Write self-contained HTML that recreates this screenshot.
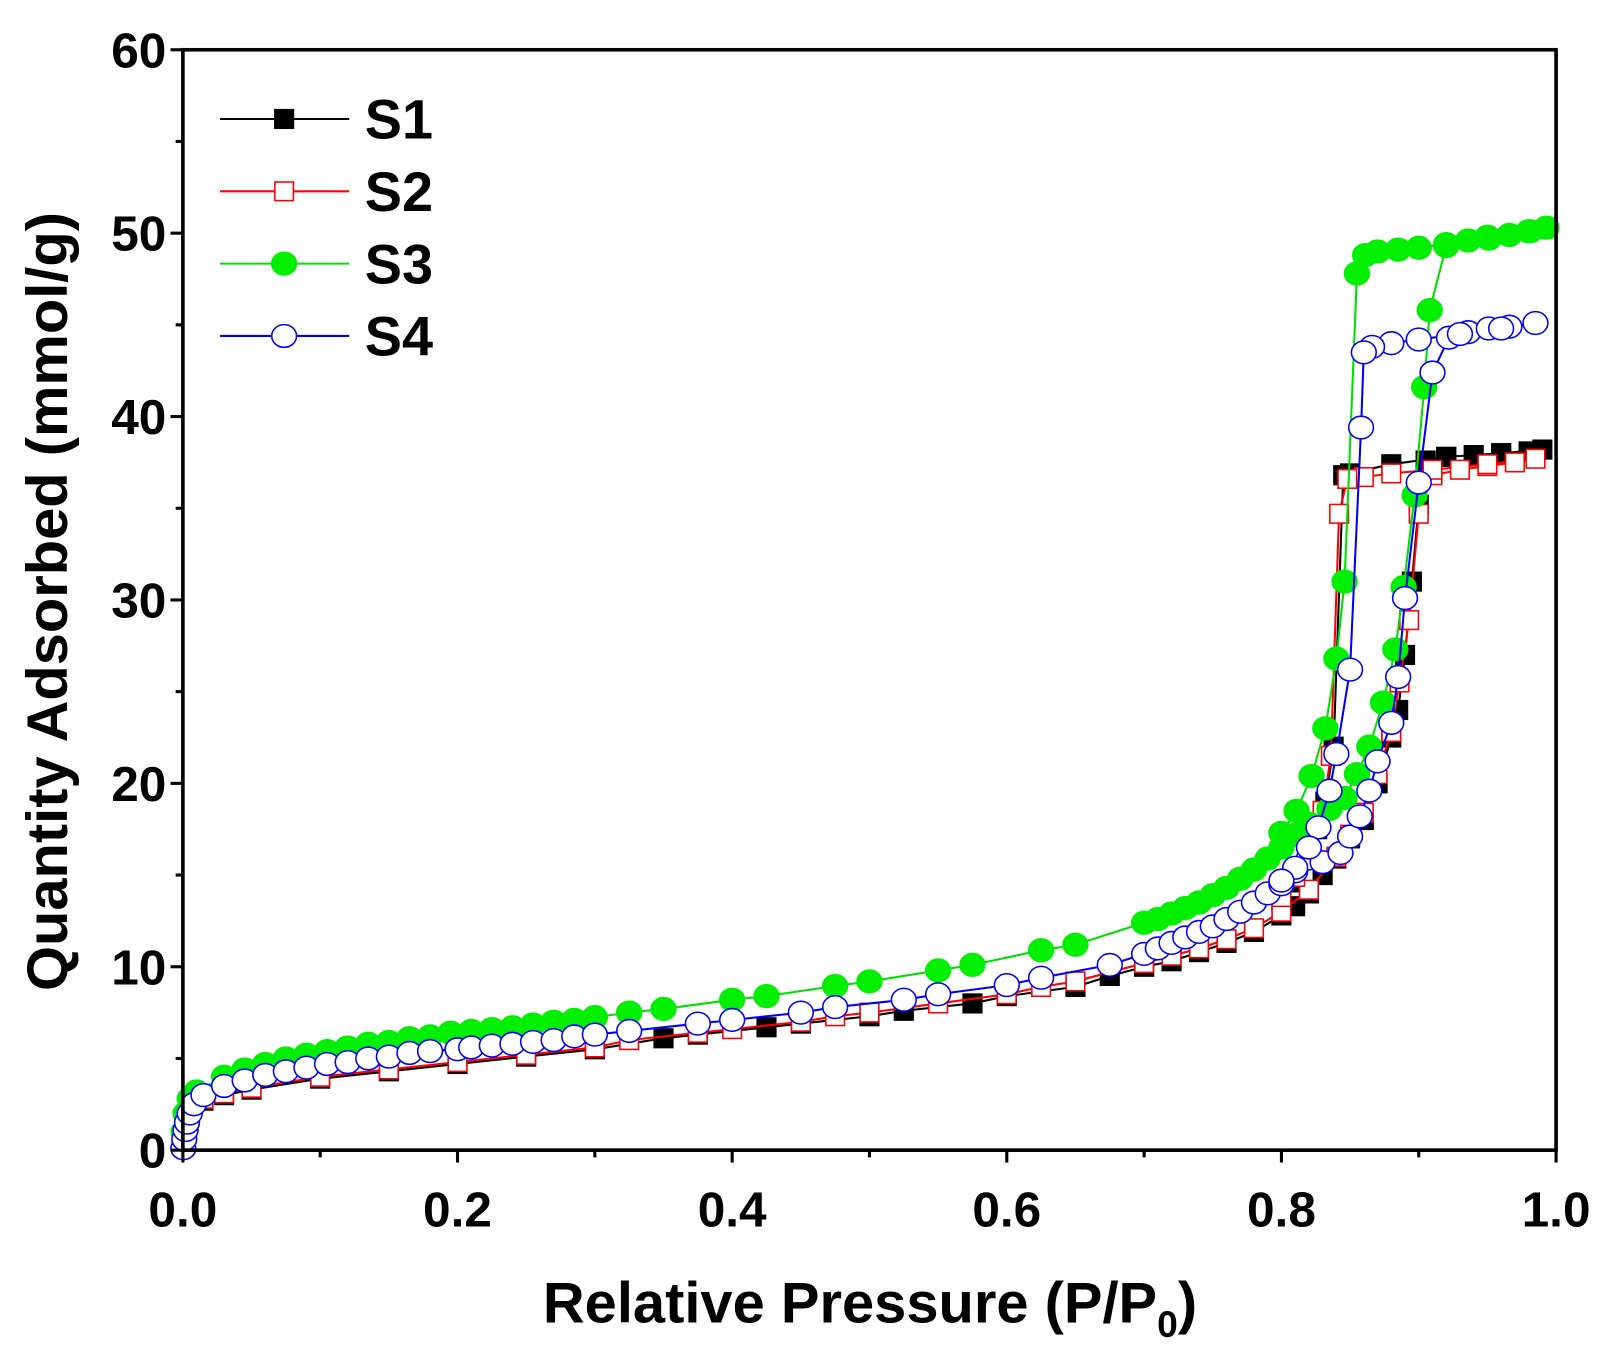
<!DOCTYPE html>
<html><head><meta charset="utf-8"><style>
html,body{margin:0;padding:0;background:#fff;}
svg{display:block;font-family:"Liberation Sans",Arial,sans-serif;font-weight:bold;}
</style></head><body>
<svg id="chart" width="1616" height="1358" viewBox="0 0 1564 1314" xmlns="http://www.w3.org/2000/svg">
<g id="series"></g>
<g id="axes"></g>
<g id="legend"></g>
</svg>
<script>
const xTicks=[0,0.2,0.4,0.6,0.8,1.0];
const xTickLabels=["0.0","0.2","0.4","0.6","0.8","1.0"];
const yTicks=[0,10,20,30,40,50,60];
const yTickLabels=["0","10","20","30","40","50","60"];
const seriesNames=["S1","S2","S3","S4"];

const s1X=[0.0005,0.002,0.005,0.015,0.03,0.05,0.1,0.15,0.2,0.25,0.3,0.35,0.375,0.425,0.45,0.5,0.525,0.575,0.6,0.65,0.675,0.7,0.72,0.74,0.76,0.78,0.8,0.81,0.82,0.83,0.84,0.85,0.86,0.87,0.88,0.885,0.89,0.895,0.9,0.905,0.92,0.94,0.96,0.98,0.99,0.96,0.92,0.88,0.85,0.845,0.838,0.832,0.826,0.82,0.81,0.8];
const s1Y=[0.3,1.2,2.0,2.7,3.0,3.3,3.9,4.3,4.7,5.1,5.5,6.1,6.3,6.7,6.9,7.3,7.6,8.0,8.4,8.9,9.5,10.0,10.3,10.8,11.3,11.9,12.8,13.3,14.0,15.0,15.9,17.0,18.0,20.0,22.5,24.0,27.0,31.0,35.2,37.6,37.8,37.9,38.0,38.1,38.2,38.0,37.8,37.4,36.9,36.8,22.0,19.0,17.5,16.0,14.6,13.6];

const s2X=[0.0005,0.002,0.005,0.015,0.03,0.05,0.1,0.15,0.2,0.25,0.3,0.325,0.375,0.4,0.45,0.475,0.5,0.55,0.6,0.625,0.65,0.7,0.72,0.74,0.76,0.78,0.8,0.82,0.84,0.85,0.86,0.87,0.88,0.886,0.893,0.9,0.91,0.93,0.95,0.97,0.985,0.95,0.91,0.88,0.86,0.848,0.842,0.836,0.83,0.82,0.81,0.8];
const s2Y=[0.2,1.3,2.1,2.8,3.1,3.4,4.0,4.4,4.8,5.2,5.6,6.0,6.4,6.6,7.0,7.3,7.5,8.0,8.5,8.9,9.2,10.2,10.6,11.0,11.5,12.1,13.0,14.2,16.0,17.2,18.4,20.5,22.8,25.5,28.9,34.7,36.8,37.1,37.3,37.5,37.7,37.4,37.1,36.9,36.7,36.6,34.7,21.5,18.5,16.5,14.9,13.8];

const s3X=[0.0005,0.002,0.005,0.01,0.03,0.045,0.06,0.075,0.09,0.105,0.12,0.135,0.15,0.165,0.18,0.195,0.21,0.225,0.24,0.255,0.27,0.285,0.3,0.325,0.35,0.4,0.425,0.475,0.5,0.55,0.575,0.625,0.65,0.7,0.71,0.72,0.73,0.74,0.75,0.76,0.77,0.78,0.79,0.8,0.81,0.82,0.835,0.846,0.855,0.864,0.874,0.883,0.889,0.897,0.904,0.908,0.92,0.936,0.951,0.966,0.981,0.993,0.98,0.95,0.92,0.9,0.885,0.87,0.861,0.855,0.846,0.84,0.832,0.822,0.811,0.8];
const s3Y=[1.0,2.0,2.8,3.2,4.0,4.4,4.7,5.0,5.2,5.4,5.6,5.8,5.9,6.1,6.2,6.4,6.5,6.6,6.7,6.85,7.0,7.1,7.25,7.5,7.7,8.2,8.4,8.95,9.2,9.8,10.1,10.9,11.2,12.4,12.6,12.9,13.2,13.5,13.9,14.3,14.8,15.3,15.9,16.5,17.2,17.8,18.6,19.2,20.5,22.0,24.4,27.3,30.7,35.7,41.6,45.8,49.3,49.6,49.7,49.9,50.1,50.3,50.1,49.8,49.4,49.2,49.1,49.0,48.8,47.8,31.0,26.8,23.0,20.4,18.5,17.3];

const s4X=[0.0003,0.001,0.002,0.003,0.005,0.008,0.015,0.03,0.045,0.06,0.075,0.09,0.105,0.12,0.135,0.15,0.165,0.18,0.2,0.21,0.225,0.24,0.255,0.27,0.285,0.3,0.325,0.375,0.4,0.45,0.475,0.525,0.55,0.6,0.625,0.675,0.7,0.71,0.72,0.73,0.74,0.75,0.76,0.77,0.78,0.79,0.8,0.81,0.82,0.83,0.843,0.85,0.857,0.864,0.87,0.88,0.885,0.89,0.9,0.91,0.922,0.936,0.951,0.966,0.985,0.96,0.93,0.9,0.88,0.866,0.86,0.858,0.85,0.84,0.835,0.827,0.82,0.81,0.8];
const s4Y=[0.1,0.6,1.1,1.5,2.0,2.5,3.0,3.5,3.8,4.1,4.3,4.5,4.7,4.8,5.0,5.1,5.3,5.4,5.5,5.6,5.7,5.8,5.9,6.0,6.2,6.3,6.5,6.9,7.1,7.5,7.8,8.2,8.5,9.0,9.4,10.1,10.7,11.0,11.3,11.6,11.9,12.2,12.6,13.0,13.5,14.0,14.5,15.2,15.9,15.7,16.2,17.1,18.2,19.6,21.2,23.3,25.8,30.1,36.4,42.4,44.3,44.6,44.8,44.9,45.1,44.8,44.5,44.2,44.0,43.8,43.5,39.4,26.2,21.6,19.6,17.6,16.5,15.4,14.7];

const X0=177,X1=1506,Y0=1113,Y1=48;
function sx(v){return X0+(X1-X0)*v;}
function sy(v){return Y0-(Y0-Y1)*v/60;}
const NS="http://www.w3.org/2000/svg";
function mk(tag,attrs,parent){const e=document.createElementNS(NS,tag);for(const k in attrs)e.setAttribute(k,attrs[k]);parent.appendChild(e);return e;}

const styles=[
 {line:"#000",type:"sq",fill:"#000",stroke:"#000"},
 {line:"#ff0000",type:"sq",fill:"#fff",stroke:"#ff0000"},
 {line:"#00dd00",type:"ci",fill:"#00ee00",stroke:"#00ee00"},
 {line:"#0000ff",type:"ci",fill:"#fff",stroke:"#0000ff"}
];
const seriesX=[s1X,s2X,s3X,s4X], seriesY=[s1Y,s2Y,s3Y,s4Y];
const sg=document.getElementById('series');
function marker(parent,st,cx,cy){
  let m;
  if(st.type==="sq"){m=mk('rect',{x:cx-9,y:cy-9,width:18,height:18,fill:st.fill,stroke:st.stroke,'stroke-width':1.5},parent);}
  else{m=mk('ellipse',{cx:cx,cy:cy,rx:12,ry:11,fill:st.fill,stroke:st.stroke,'stroke-width':1.5},parent);}
  return m;
}
for(let i=0;i<4;i++){
  const st=styles[i];
  const g=mk('g',{},sg);
  
  
  const pts=seriesX[i].map((x,j)=>sx(x).toFixed(1)+","+sy(seriesY[i][j]).toFixed(1)).join(" ");
  const pl=mk('polyline',{points:pts,fill:'none',stroke:st.line,'stroke-width':2},g);
  
  
  seriesX[i].forEach((x,j)=>{
    const m=marker(g,st,sx(x),sy(seriesY[i][j]));
    
    
  });
}

const ax=document.getElementById('axes');
const frame=mk('rect',{x:X0,y:Y1,width:X1-X0,height:Y0-Y1,fill:'none',stroke:'#000','stroke-width':3.5},ax);


for(let k=0;k<=10;k++){
  const v=k/10, major=k%2===0;
  mk('line',{x1:sx(v),y1:Y0,x2:sx(v),y2:Y0+(major?12:7),stroke:'#000','stroke-width':3},ax);
}
xTicks.forEach((v,i)=>{
  const t=mk('text',{x:sx(v),y:Y0+74,'text-anchor':'middle','font-size':48},ax);
  t.textContent=xTickLabels[i];
  
  
});
for(let k=0;k<=12;k++){
  const v=k*5, major=k%2===0;
  mk('line',{x1:X0,y1:sy(v),x2:X0-(major?12:7),y2:sy(v),stroke:'#000','stroke-width':3},ax);
}
yTicks.forEach((v,i)=>{
  const t=mk('text',{x:X0-16,y:sy(v)+17,'text-anchor':'end','font-size':48},ax);
  t.textContent=yTickLabels[i];
  
  
});
const xt=mk('text',{x:842,y:1280,'text-anchor':'middle','font-size':56},ax);
xt.innerHTML='Relative Pressure (P/P<tspan font-size="36" dy="14">0</tspan><tspan dy="-14">)</tspan>';


const yt=mk('text',{x:0,y:0,'text-anchor':'middle','font-size':56,transform:'translate(65,582) rotate(-90)'},ax);
yt.textContent='Quantity Adsorbed (mmol/g)';



const lg=document.getElementById('legend');
const legY=[115,185,255,325];
for(let i=0;i<4;i++){
  const g=mk('g',{},lg);
  
  
  mk('line',{x1:213,y1:legY[i],x2:338,y2:legY[i],stroke:styles[i].line,'stroke-width':2},g);
  marker(g,styles[i],275,legY[i]);
  const t=mk('text',{x:353,y:legY[i]+19,'font-size':54},g);
  t.textContent=seriesNames[i];
}
</script>
</body></html>
